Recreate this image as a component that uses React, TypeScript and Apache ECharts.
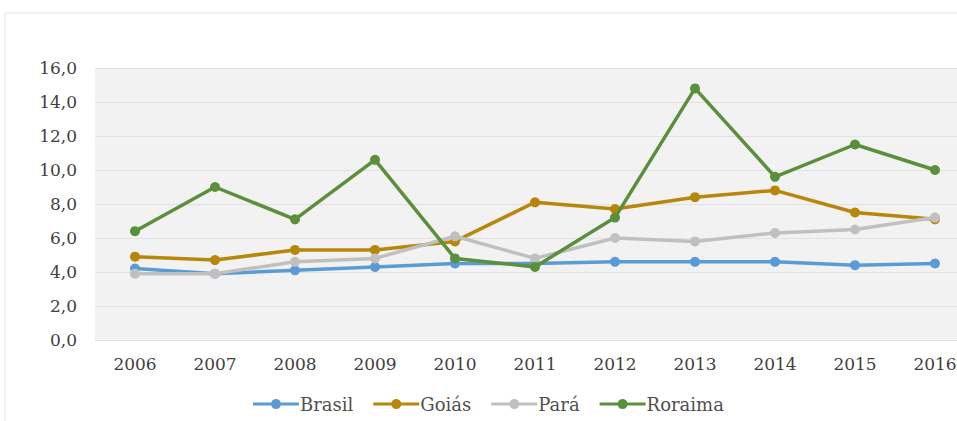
import React, { useEffect, useRef } from "react";
import * as echarts from "echarts";

const years = ["2006", "2007", "2008", "2009", "2010", "2011", "2012", "2013", "2014", "2015", "2016"];
const brasil = [4.2, 3.9, 4.1, 4.3, 4.5, 4.5, 4.6, 4.6, 4.6, 4.4, 4.5];
const goias = [4.9, 4.7, 5.3, 5.3, 5.8, 8.1, 7.7, 8.4, 8.8, 7.5, 7.1];
const para = [3.9, 3.9, 4.6, 4.8, 6.1, 4.8, 6.0, 5.8, 6.3, 6.5, 7.2];
const roraima = [6.4, 9.0, 7.1, 10.6, 4.8, 4.3, 7.2, 14.8, 9.6, 11.5, 10.0];

const seriesNames = ["Brasil", "Goiás", "Pará", "Roraima"];
const seriesData = [brasil, goias, para, roraima];
const colors = ["#5b9bd5", "#b8860b", "#c0c0c0", "#5a8f3c"];

const legendIcon =
  "path://M0,3.5 L18.23,3.5 A5,5 0 0,1 27.77,3.5 L46,3.5 L46,6.5 L27.77,6.5 A5,5 0 0,1 18.23,6.5 L0,6.5 Z";

export default function App() {
  const ref = useRef<HTMLDivElement>(null);
  useEffect(() => {
    if (!ref.current) return;
    const chart = echarts.init(ref.current, undefined, { renderer: "svg" });
    const font = "DejaVu Serif";
    chart.setOption({
      animation: false,
      backgroundColor: "#ffffff",
      textStyle: { fontFamily: font },
      graphic: [
        {
          type: "rect",
          shape: { x: 5, y: 13, width: 1000, height: 500 },
          style: { fill: "none", stroke: "#e6e6e6", lineWidth: 1 },
          silent: true,
          z: -10,
        },
      ],
      grid: {
        left: 95,
        width: 880,
        top: 68,
        bottom: 81,
        outerBoundsMode: "none",
        containLabel: false,
        show: true,
        backgroundColor: "#f2f2f2",
        borderWidth: 0,
      },
      legend: {
        top: 390,
        left: 248,
        itemWidth: 46,
        itemHeight: 10,
        itemGap: 20,
        icon: legendIcon,
        textStyle: { fontFamily: font, fontSize: 18, color: "#505050", padding: [0, 0, 0, -4] },
        data: seriesNames.map((n, i) => ({
          name: n,
          itemStyle: { color: colors[i] },
        })),
      },
      xAxis: {
        type: "category",
        data: years,
        boundaryGap: true,
        axisLine: { show: false },
        axisTick: { show: false },
        axisLabel: { fontFamily: font, fontSize: 17, color: "#404040", margin: 15 },
      },
      yAxis: {
        type: "value",
        min: 0,
        max: 16,
        interval: 2,
        axisLine: { show: false },
        axisTick: { show: false },
        axisLabel: {
          fontFamily: font,
          fontSize: 17,
          color: "#404040",
          margin: 18,
          formatter: (v: number) => v.toFixed(1).replace(".", ","),
        },
        splitLine: { lineStyle: { color: "#e2e2e2", width: 1 } },
      },
      series: seriesNames.map((n, i) => ({
        name: n,
        type: "line",
        data: seriesData[i],
        symbol: "circle",
        symbolSize: 10,
        lineStyle: { color: colors[i], width: 3.5 },
        itemStyle: { color: colors[i] },
        z: 2 + i,
      })),
    });
    return () => chart.dispose();
  }, []);
  return (
    <div
      ref={ref}
      style={{ position: "absolute", left: 0, top: 0, width: 957, height: 421 }}
    />
  );
}
